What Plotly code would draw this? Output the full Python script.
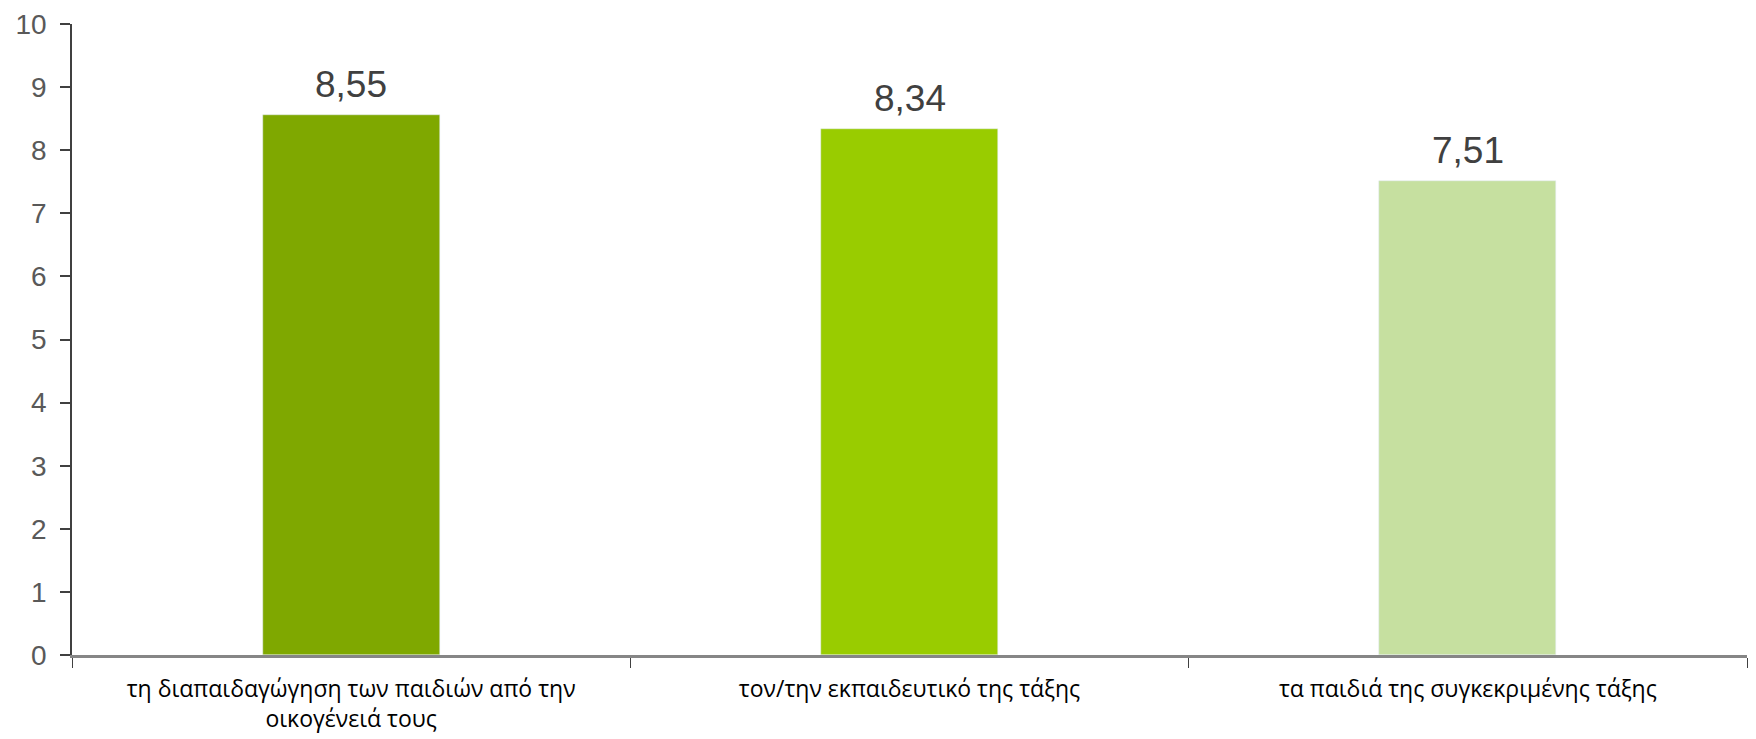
import plotly.graph_objects as go

categories = [
    "τη διαπαιδαγώγηση των παιδιών από την<br>οικογένειά τους",
    "τον/την εκπαιδευτικό της τάξης",
    "τα παιδιά της συγκεκριμένης τάξης",
]
values = [8.55, 8.34, 7.51]
value_labels = ["8,55", "8,34", "7,51"]
bar_colors = ["#7FA800", "#99CC00", "#C6E0A0"]
y_ticks = list(range(0, 11))

fig = go.Figure()
for cat, val, col in zip(categories, values, bar_colors):
    fig.add_trace(go.Bar(
        x=[cat], y=[val], marker_color=col, width=0.317,
        showlegend=False, hoverinfo="skip",
    ))

# value labels above bars
for cat, val, lab in zip(categories, values, value_labels):
    fig.add_annotation(
        x=cat, y=val, text=lab, showarrow=False,
        yanchor="bottom", yshift=8,
        font=dict(family="Liberation Sans, Arial", size=37, color="#404040"),
    )

# page body has an 8px margin, so margins are offset to land the axes where the reference has them
fig.update_layout(
    width=1756, height=739,
    margin=dict(l=64, r=17, t=16, b=92),
    plot_bgcolor="white", paper_bgcolor="white",
    bargap=0,
    xaxis=dict(
        type="category", automargin=False,
        showline=True, linecolor="#868686", linewidth=2.5,
        ticks="outside", tickson="boundaries", ticklen=10,
        tickcolor="#404040", tickwidth=1,
        tickfont=dict(family="Open Sans", size=23, color="#000000"),
        ticklabelstandoff=12,
        showgrid=False,
    ),
    yaxis=dict(
        range=[0, 10], tickvals=y_ticks, automargin=False,
        showline=True, linecolor="#404040", linewidth=1.5,
        ticks="outside", ticklen=10, tickcolor="#404040", tickwidth=1.5,
        tickfont=dict(family="Liberation Sans, Arial", size=28, color="#595959"),
        ticklabelstandoff=8, ticklabeloverflow="allow",
        showgrid=False, zeroline=False,
    ),
)

fig.write_html("out.html")
